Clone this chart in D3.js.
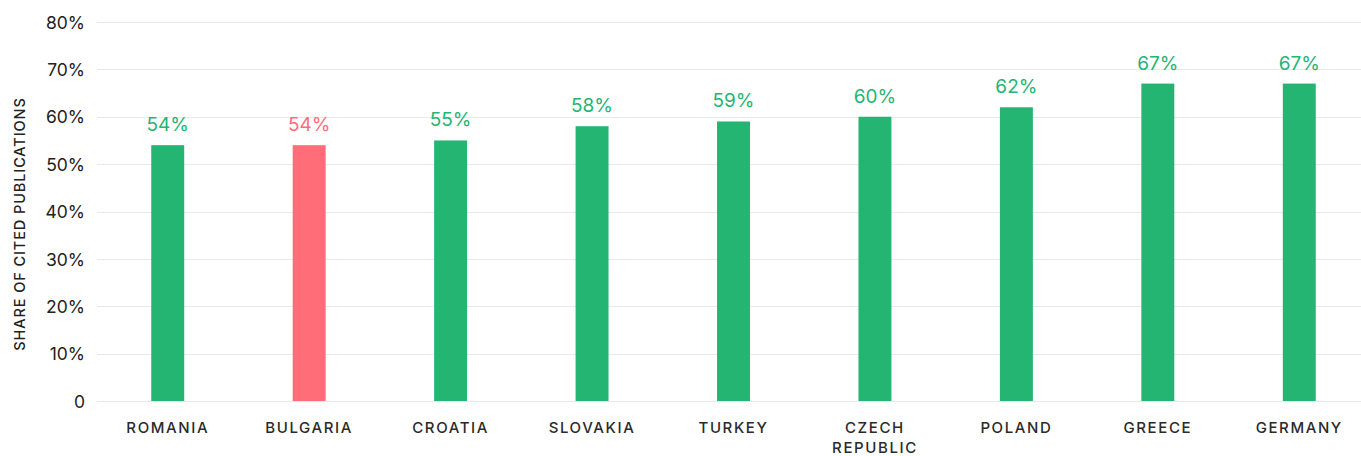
<!DOCTYPE html>
<html>
<head>
<meta charset="utf-8">
<script src="https://cdn.jsdelivr.net/npm/d3@7"></script>
<style>
  html, body { margin: 0; padding: 0; background: #fff; }
  svg { display: block; font-family: Inter, "Open Sans", sans-serif; }
</style>
</head>
<body>
<svg id="chart" width="1361" height="456"></svg>
<script>
// Share of publications that have been cited, by country
const countries = ["ROMANIA", "BULGARIA", "CROATIA", "SLOVAKIA", "TURKEY", "CZECH REPUBLIC", "POLAND", "GREECE", "GERMANY"];
const sharePct = [54, 54, 55, 58, 59, 60, 62, 67, 67];
const highlight = ["BULGARIA"];
const yTicks = [0, 10, 20, 30, 40, 50, 60, 70, 80];
const yTitle = "SHARE OF CITED PUBLICATIONS";

const GREEN = "#24b573";
const RED = "#ff6d79";

const svg = d3.select("#chart");
const plotTop = 22, plotBottom = 401, plotLeft = 97, plotRight = 1370;

const y = d3.scaleLinear().domain([0, 80]).range([plotBottom, plotTop]);
const x = d3.scaleBand().domain(countries).range([plotLeft, plotRight])
  .paddingInner(0.767).paddingOuter(0.3835);

// horizontal gridlines
svg.append("g").selectAll("line").data(yTicks).join("line")
  .attr("x1", plotLeft).attr("x2", plotRight)
  .attr("y1", d => Math.round(y(d)) + 0.5).attr("y2", d => Math.round(y(d)) + 0.5)
  .attr("stroke", "#e9e9e9").attr("stroke-width", 1.2);

// y axis tick labels
const yAxis = d3.axisLeft(y).tickValues(yTicks).tickSize(0).tickPadding(0)
  .tickFormat(d => d === 0 ? "0" : d + "%");
svg.append("g").attr("transform", `translate(85,0)`).call(yAxis)
  .call(g => g.select(".domain").remove())
  .call(g => g.selectAll("text")
    .attr("font-family", "Inter, sans-serif")
    .attr("font-size", 17.5).attr("fill", "#222").attr("dy", "0.35em"));

// y axis title
svg.append("text")
  .attr("transform", `translate(25,224) rotate(-90)`)
  .attr("text-anchor", "middle")
  .attr("font-size", 14.5).attr("font-weight", 500)
  .attr("letter-spacing", "0.9px").attr("fill", "#222")
  .text(yTitle);

// bars
svg.append("g").selectAll("rect").data(countries).join("rect")
  .attr("x", d => x(d))
  .attr("width", x.bandwidth())
  .attr("y", (d, i) => y(sharePct[i]))
  .attr("height", (d, i) => y(0) - y(sharePct[i]))
  .attr("fill", d => highlight.includes(d) ? RED : GREEN);

// value labels
svg.append("g").selectAll("text").data(countries).join("text")
  .attr("x", d => x(d) + x.bandwidth() / 2)
  .attr("y", (d, i) => y(sharePct[i]) - 14)
  .attr("text-anchor", "middle")
  .attr("font-size", 19)
  .attr("fill", d => highlight.includes(d) ? RED : GREEN)
  .text((d, i) => sharePct[i] + "%");

// x axis category labels (wrapped onto two lines where needed)
const xl = svg.append("g").selectAll("text").data(countries).join("text")
  .attr("x", d => x(d) + x.bandwidth() / 2)
  .attr("y", 433)
  .attr("text-anchor", "middle")
  .attr("font-size", 15).attr("font-weight", 500)
  .attr("letter-spacing", "1.6px").attr("fill", "#2a2a2a");
xl.each(function(d) {
  const words = d.split(" ");
  const t = d3.select(this);
  words.forEach((w, i) => {
    t.append("tspan").attr("x", x(d) + x.bandwidth() / 2)
      .attr("dy", i === 0 ? 0 : 19.5).text(w);
  });
});
</script>
</body>
</html>
